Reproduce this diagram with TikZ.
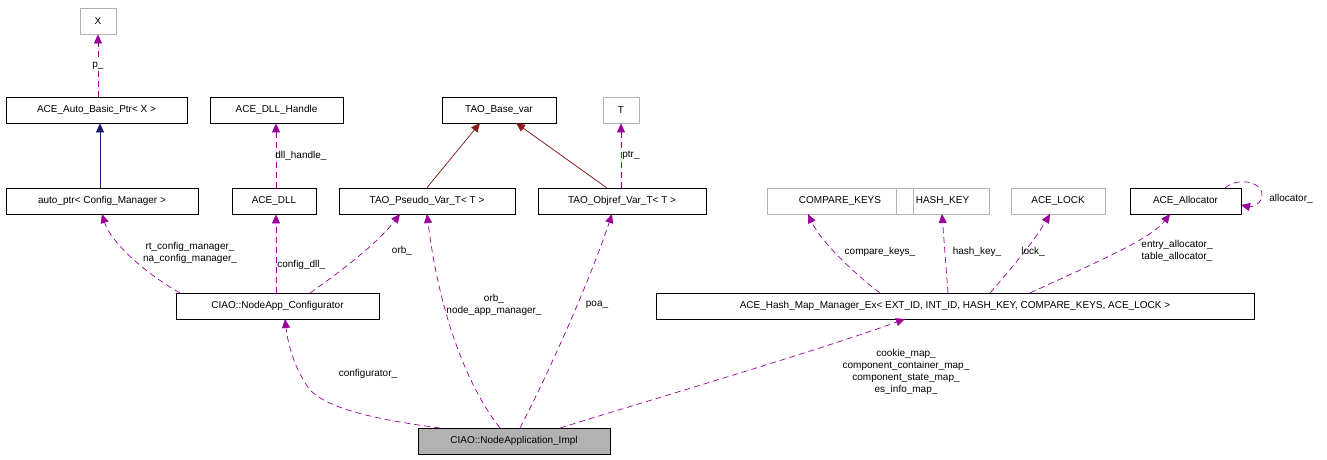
\documentclass[tikz,border=0pt]{standalone}
\usepackage{fontspec}
\setmainfont{Liberation Sans}
\usetikzlibrary{arrows.meta}
\begin{document}
\begin{tikzpicture}[x=1pt,y=-1pt,
 box/.style={draw=black,line width=0.8pt,minimum height=26pt,inner sep=0pt,font=\fontsize{10}{12}\selectfont},
 gbox/.style={box,draw=gray!60},
 use/.style={draw=violet!80!magenta,dash pattern=on 6pt off 4pt,line width=0.7pt,-{Triangle[length=9pt,width=8pt,fill=violet!80!magenta]}},
 inh/.style={line width=0.7pt,-{Triangle[length=9pt,width=8pt]}},
 lab/.style={font=\fontsize{10}{12}\selectfont,align=center,inner sep=1pt}]
\useasboundingbox (0,0) rectangle (1327,459);
\node[gbox,minimum width=36pt] (x) at (98,21) {X};
\node[box,minimum width=181pt] (abp) at (96.5,110) {ACE\_Auto\_Basic\_Ptr< X >};
\node[box,minimum width=133pt] (dllh) at (276.5,110) {ACE\_DLL\_Handle};
\node[box,minimum width=114pt] (bv) at (499,110) {TAO\_Base\_var};
\node[gbox,minimum width=36pt] (t) at (621,110) {T};
\node[box,minimum width=192pt] (ap) at (102,201) {auto\_ptr< Config\_Manager >};
\node[box,minimum width=84pt] (dll) at (274,201) {ACE\_DLL};
\node[box,minimum width=176pt] (pv) at (427,201) {TAO\_Pseudo\_Var\_T< T >};
\node[box,minimum width=168pt] (ov) at (622,201) {TAO\_Objref\_Var\_T< T >};
\node[gbox,minimum width=146pt] (ck) at (840,201) {COMPARE\_KEYS};
\node[gbox,minimum width=93pt] (hk) at (942.5,201) {HASH\_KEY};
\node[gbox,minimum width=94pt] (lk) at (1058,201) {ACE\_LOCK};
\node[box,minimum width=111pt] (al) at (1185.5,201) {ACE\_Allocator};
\node[box,minimum width=203pt] (cfg) at (277.5,306) {CIAO::NodeApp\_Configurator};
\node[box,minimum width=598pt] (hm) at (955,306) {ACE\_Hash\_Map\_Manager\_Ex< EXT\_ID, INT\_ID, HASH\_KEY, COMPARE\_KEYS, ACE\_LOCK >};
\node[box,fill=gray!60,minimum width=192pt] (impl) at (514,441) {CIAO::NodeApplication\_Impl};

\draw[use] (abp.north -| x) -- node[lab,fill=white]{p\_} (x);
\draw[inh,draw={rgb,255:red,25;green,25;blue,112},fill={rgb,255:red,25;green,25;blue,112}] (ap.north -| 100,0) -- (abp.south -| 100,0);
\draw[use] (dll.north -| 276,0) -- node[lab,right,xshift=-2pt]{dll\_handle\_} (dllh.south -| 276,0);
\draw[inh,draw={rgb,255:red,139;green,26;blue,26},fill={rgb,255:red,139;green,26;blue,26}] (pv.north) -- (480,123);
\draw[inh,draw={rgb,255:red,139;green,26;blue,26},fill={rgb,255:red,139;green,26;blue,26}] (607,188) -- (516,123);
\draw[use] (ov.north -| t) -- node[lab,right]{ptr\_} (t);
\draw[use] (180,293) .. controls (140,270) and (110,240) .. (102,214);
\node[lab] at (190,253) {rt\_config\_manager\_\\na\_config\_manager\_};
\draw[use] (cfg.north -| 276,0) -- node[lab,right,pos=0.35]{config\_dll\_} (dll.south -| 276,0);
\draw[use] (310,293) .. controls (350,265) and (380,240) .. (400,214);
\node[lab] at (402,251) {orb\_};
\draw[use] (880,293) .. controls (850,270) and (820,240) .. (808,214);
\node[lab] at (880,252) {compare\_keys\_};
\draw[use] (948,293) -- (942,214);
\node[lab] at (977,252) {hash\_key\_};
\draw[use] (990,293) .. controls (1010,270) and (1035,240) .. (1050,214);
\node[lab] at (1033,252) {lock\_};
\draw[use] (1030,293) .. controls (1090,265) and (1150,240) .. (1170,214);
\node[lab] at (1177,251) {entry\_allocator\_\\table\_allocator\_};
\draw[use] (1225,188) .. controls (1235,178) and (1262,180) .. (1262,195) .. controls (1262,205) and (1250,207) .. (1241,205);
\node[lab] at (1291,199) {allocator\_};
\draw[use] (440,428) .. controls (380,420) and (330,410) .. (310,390) .. controls (295,370) and (288,345) .. (285,319);
\node[lab] at (368,374) {configurator\_};
\draw[use] (500,428) .. controls (470,390) and (440,320) .. (427,214);
\node[lab] at (494,305) {orb\_\\node\_app\_manager\_};
\draw[use] (520,428) .. controls (550,370) and (590,280) .. (612,214);
\node[lab] at (597,305) {poa\_};
\draw[use] (560,428) .. controls (650,400) and (820,350) .. (905,319);
\node[lab] at (906,372) {cookie\_map\_\\component\_container\_map\_\\component\_state\_map\_\\es\_info\_map\_};
\end{tikzpicture}
\end{document}
